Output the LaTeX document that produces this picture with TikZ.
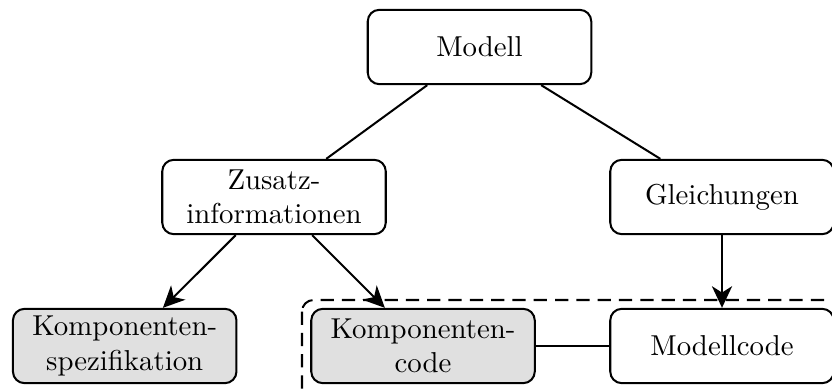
\documentclass[tikz,border=0pt]{standalone}
\usetikzlibrary{arrows.meta}
\definecolor{boxgray}{RGB}{224,224,224}
\begin{document}
\begin{tikzpicture}[x=0.3472pt,y=-0.3472pt,
  box/.style={draw,rounded corners=4pt,line width=0.7pt,align=center,
    minimum width=77.6pt,minimum height=25.8pt,inner sep=0pt,font=\normalsize},
  graybox/.style={box,fill=boxgray},
  link/.style={line width=0.7pt},
  arr/.style={line width=0.7pt,-{Stealth[length=7.5pt,width=7pt,inset=2.2pt]}},
  group/.style={line width=0.7pt,dash pattern=on 4.6pt off 2.8pt,rounded corners=4pt}]
  \clip (0,0) rectangle (832,392);
  % code group frame
  \draw[group] (302,300) rectangle (850,410);
  % nodes
  \node[box] (modell) at (479.5,47) {Modell};
  \node[box] (zusatz) at (274,197) {Zusatz-\\informationen};
  \node[box] (gleich) at (722,197) {Gleichungen};
  \node[graybox] (kspez) at (124.7,346) {Komponenten-\\spezifikation};
  \node[graybox] (kcode) at (423,346) {Komponenten-\\code};
  \node[box] (mcode) at (722,346) {Modellcode};
  % connectors
  \draw[link] (modell) -- (zusatz);
  \draw[link] (modell) -- (gleich);
  \draw[arr] (zusatz) -- (kspez);
  \draw[arr] (zusatz) -- (kcode);
  \draw[arr] (gleich) -- (mcode);
  \draw[link] (kcode) -- (mcode);
\end{tikzpicture}
\end{document}
